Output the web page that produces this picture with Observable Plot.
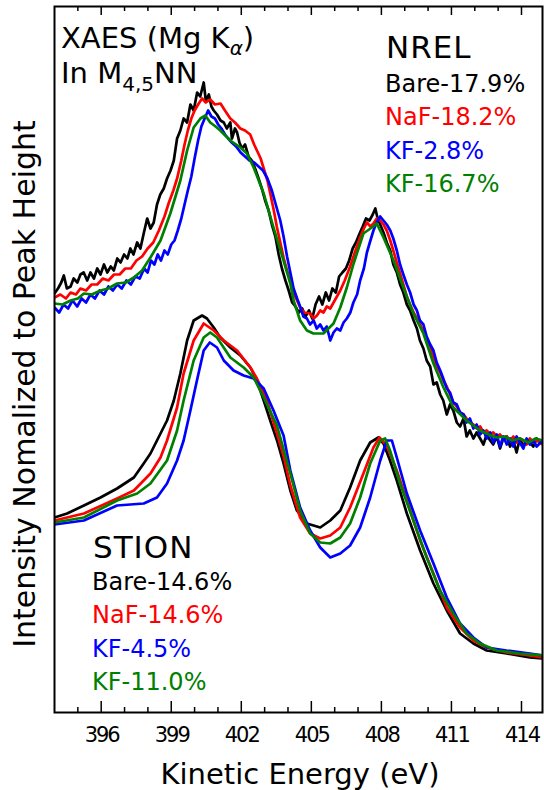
<!DOCTYPE html>
<html><head><meta charset="utf-8">
<script src="https://cdn.jsdelivr.net/npm/d3@7"></script>
<script src="https://cdn.jsdelivr.net/npm/@observablehq/plot@0.6"></script>
<style>
html,body{margin:0;padding:0;background:#fff;}
#chart svg{display:block;}
</style>
</head><body><div id="chart"></div>
<script>
// ---------- DATA (kinetic energy in eV, intensity in arbitrary units) ----------
// STION sample set
const stionBareE = [394.0,394.54,395.26,395.97,396.68,397.40,397.82,398.11,398.54,398.82,399.11,399.39,399.68,399.96,400.32,400.53,400.82,401.10,401.53,401.96,402.39,402.67,402.96,403.24,403.53,403.81,404.10,404.38,404.81,405.38,405.81,406.24,406.66,407.09,407.52,407.87,408.09,408.37,408.66,409.09,409.66,410.23,410.80,411.37,411.94,412.51,413.36,414.36,414.9];
const stionBareI = [138,142,150,158,167,178,192,202,222,235,255,282,315,335,340,337,328,318,308,300,288,275,255,235,215,192,165,145,132,128,135,145,168,195,213,218,212,195,175,142,105,72,45,22,12,5,2,-2,-3];

const stionNaFE = [394.0,395.26,396.68,397.40,398.11,398.54,398.82,399.25,399.53,399.96,400.39,400.82,401.25,401.82,402.39,402.67,403.10,403.53,403.81,404.10,404.52,404.95,405.38,405.81,406.24,406.66,407.23,407.66,407.92,408.23,408.66,409.09,409.66,410.23,410.80,411.37,411.94,412.51,413.36,414.36,414.9];
const stionNaFI = [135,142,157,165,182,198,215,248,282,315,332,325,315,305,288,277,255,222,200,170,138,122,117,120,128,148,182,208,218,210,185,155,115,82,48,28,15,8,3,0,-2];

const stionKF45E = [394.0,395.26,396.68,397.82,398.39,398.82,399.25,399.53,399.82,400.10,400.39,400.65,400.96,401.25,401.67,402.10,402.53,402.96,403.38,403.81,404.10,404.52,404.95,405.38,405.81,406.24,406.66,407.09,407.52,407.95,408.23,408.45,408.66,409.09,409.66,410.23,410.80,411.37,411.94,412.51,413.36,414.36,414.9];
const stionKF45I = [131,135,150,152,158,172,195,215,245,275,305,313,308,295,285,280,277,267,245,220,185,148,125,108,98,102,110,128,158,195,215,215,198,162,125,92,58,32,18,8,5,2,0];

const stionKF110E = [394.0,395.26,396.68,397.54,398.11,398.82,399.25,399.53,399.96,400.39,400.67,400.96,401.53,402.10,402.53,402.96,403.53,403.67,404.10,404.52,404.95,405.38,405.81,406.24,406.66,407.09,407.52,407.95,408.16,408.37,408.80,409.37,409.94,410.51,411.08,411.65,412.22,412.94,413.93,414.9];
const stionKF110I = [133,138,155,162,172,195,225,255,295,318,323,318,298,288,278,258,230,218,182,145,122,113,112,118,132,158,192,215,217,205,172,135,98,65,42,22,12,5,2,0];

// NREL sample set (plotted with a vertical offset)
const nrelOffset = 215;
const nrelBareE = [394.00,394.15,394.29,394.40,394.53,394.69,394.82,394.98,395.11,395.25,395.40,395.54,395.69,395.83,395.97,396.12,396.26,396.41,396.54,396.69,396.83,396.98,397.12,397.25,397.38,397.54,397.68,397.83,397.97,398.11,398.25,398.39,398.53,398.68,398.82,398.97,399.11,399.25,399.39,399.53,399.68,399.82,399.96,400.11,400.24,400.39,400.48,400.61,400.72,400.82,400.96,401.11,401.25,401.38,401.53,401.60,401.73,401.82,401.92,402.03,402.16,402.31,402.45,402.59,402.74,402.88,403.02,403.17,403.31,403.46,403.60,403.74,403.89,404.03,404.18,404.32,404.46,404.61,404.75,404.90,405.04,405.18,405.33,405.47,405.62,405.76,405.90,406.05,406.19,406.33,406.48,406.62,406.77,406.91,407.05,407.20,407.34,407.49,407.63,407.74,407.84,407.95,408.09,408.23,408.38,408.51,408.66,408.80,408.94,409.09,409.23,409.38,409.52,409.65,409.80,409.94,410.09,410.23,410.37,410.52,410.65,410.80,410.94,411.08,411.23,411.37,411.52,411.65,411.79,411.94,412.08,412.23,412.37,412.51,412.66,412.79,412.94,413.08,413.22,413.37,413.51,413.65,413.79,413.93,414.08,414.22,414.36,414.51,414.65,414.90];
const nrelBareI = [147,152,158,165,152,154,162,158,166,168,160,168,162,172,166,176,168,174,170,182,178,186,182,192,186,198,192,208,222,212,218,236,246,252,262,270,280,302,310,322,318,336,330,348,344,358,340,346,334,330,326,320,318,312,318,302,312,308,298,292,296,284,280,272,262,252,240,230,216,204,186,172,160,150,138,134,128,132,124,130,122,136,144,136,148,140,152,148,164,168,172,180,192,198,206,214,222,220,226,232,222,216,208,198,190,176,168,156,148,136,130,120,112,100,92,80,74,56,58,46,40,26,36,30,18,14,22,4,10,2,8,2,-4,6,0,-4,4,-8,2,4,-6,0,-12,2,-6,0,-2,-6,2,-2];

const nrelNaFE = [394.00,394.25,394.49,394.69,394.92,395.11,395.35,395.59,395.83,396.07,396.31,396.55,396.79,397.03,397.27,397.51,397.75,397.99,398.23,398.47,398.71,398.90,399.09,399.25,399.43,399.57,399.71,399.86,400.00,400.15,400.32,400.48,400.67,400.87,401.11,401.30,401.53,401.73,401.96,402.16,402.38,402.55,402.67,402.83,402.96,403.12,403.25,403.41,403.52,403.67,403.81,403.96,404.10,404.24,404.39,404.52,404.70,404.95,405.10,405.24,405.38,405.52,405.66,405.81,406.00,406.24,406.43,406.66,406.86,407.09,407.25,407.38,407.53,407.66,407.80,407.95,408.09,408.23,408.38,408.51,408.66,408.80,408.94,409.09,409.23,409.38,409.52,409.65,409.80,409.94,410.09,410.23,410.37,410.52,410.65,410.80,410.94,411.08,411.23,411.37,411.52,411.65,411.79,411.94,412.08,412.23,412.37,412.51,412.66,412.79,412.94,413.08,413.22,413.37,413.51,413.65,413.79,413.93,414.08,414.22,414.36,414.51,414.65,414.90];
const nrelNaFI = [143,146,142,148,146,152,150,156,156,162,160,166,166,172,172,180,184,192,198,210,224,238,250,262,280,296,310,322,330,336,342,338,341,336,337,330,322,318,312,310,306,296,290,282,272,260,246,228,214,198,183,170,160,147,140,133,128,127,122,125,130,128,134,132,140,150,160,174,188,203,212,218,214,217,222,220,216,210,200,190,178,167,156,144,136,128,122,116,110,102,94,82,74,68,60,54,46,38,34,28,26,22,18,16,12,14,8,10,6,8,4,6,2,4,0,4,-2,2,0,-4,2,-2,0,-4];

const nrelKF28E = [394.00,394.20,394.39,394.58,394.77,394.97,395.16,395.35,395.54,395.73,395.93,396.12,396.31,396.50,396.69,396.88,397.08,397.27,397.46,397.65,397.84,397.99,398.13,398.28,398.42,398.56,398.71,398.85,399.00,399.14,399.28,399.43,399.57,399.71,399.86,400.00,400.15,400.29,400.43,400.58,400.72,400.87,401.01,401.15,401.30,401.44,401.59,401.78,401.97,402.16,402.35,402.55,402.74,402.93,403.12,403.31,403.50,403.67,403.81,403.96,404.10,404.24,404.39,404.52,404.66,404.81,404.94,405.10,405.23,405.38,405.52,405.66,405.81,405.95,406.09,406.24,406.38,406.52,406.67,406.80,406.96,407.09,407.25,407.38,407.53,407.66,407.80,407.95,408.09,408.23,408.38,408.51,408.66,408.80,408.94,409.09,409.23,409.38,409.52,409.65,409.80,409.94,410.09,410.23,410.37,410.52,410.65,410.80,410.94,411.08,411.23,411.37,411.52,411.65,411.79,411.94,412.08,412.23,412.37,412.51,412.66,412.79,412.94,413.08,413.22,413.37,413.51,413.65,413.79,413.93,414.08,414.22,414.36,414.51,414.65,414.90];
const nrelKF28I = [133,128,136,132,140,134,142,138,146,142,150,146,154,150,156,152,160,156,164,162,172,168,180,176,186,180,190,186,196,200,210,222,236,250,264,282,300,314,322,330,324,322,316,312,306,302,298,294,288,284,280,278,274,270,262,250,234,220,204,184,168,152,142,134,124,122,116,120,112,116,110,114,100,108,112,110,118,122,128,138,146,160,172,188,200,210,218,224,220,216,210,202,190,176,166,156,148,136,130,120,116,104,96,90,78,70,62,52,48,38,36,28,26,18,22,12,16,6,10,2,8,-2,6,-6,4,-4,2,-6,4,-2,-8,2,-4,0,-6,0];

const nrelKF167E = [394.0,394.35,394.69,395.0,395.26,395.6,395.97,396.3,396.68,397.05,397.40,397.75,398.11,398.54,398.96,399.39,399.68,399.96,400.25,400.46,400.67,400.9,401.10,401.53,401.96,402.24,402.53,402.96,403.38,403.81,404.10,404.24,404.52,404.81,405.09,405.52,405.95,406.24,406.52,406.81,407.23,407.59,407.80,408.09,408.52,408.94,409.37,409.80,410.23,410.66,411.08,411.65,412.22,412.6,412.94,413.3,413.6,413.93,414.3,414.6,414.9];
const nrelKF167I = [137,136,140,142,147,146,150,152,157,158,163,170,183,200,227,260,290,313,322,325,318,314,310,300,293,287,273,247,213,180,157,140,120,110,107,107,117,133,153,177,207,213,217,203,180,153,127,107,77,53,33,20,10,6,3,4,0,2,-2,2,0];

// Axis ticks
const majorTicks = [396, 399, 402, 405, 408, 411, 414];
const minorTicks = [395, 397, 398, 400, 401, 403, 404, 406, 407, 409, 410, 412, 413];
const xDomain = [394.0, 414.9];
const yDomain = [-57, 649];

// Legend text
const nrelLabels = ["Bare-17.9%", "NaF-18.2%", "KF-2.8%", "KF-16.7%"];
const stionLabels = ["Bare-14.6%", "NaF-14.6%", "KF-4.5%", "KF-11.0%"];
const seriesColors = ["#000000", "#ff0000", "#0000ff", "#008000"];

// ---------- BUILD ----------
function rows(E, I, offset) { return E.map((e, i) => ({energy: e, intensity: I[i] + offset})); }
const curves = [
  {E: stionBareE, I: stionBareI, off: 0, c: seriesColors[0]},
  {E: stionNaFE, I: stionNaFI, off: 0, c: seriesColors[1]},
  {E: stionKF45E, I: stionKF45I, off: 0, c: seriesColors[2]},
  {E: stionKF110E, I: stionKF110I, off: 0, c: seriesColors[3]},
  {E: nrelBareE, I: nrelBareI, off: nrelOffset, c: seriesColors[0]},
  {E: nrelNaFE, I: nrelNaFI, off: nrelOffset, c: seriesColors[1]},
  {E: nrelKF28E, I: nrelKF28I, off: nrelOffset, c: seriesColors[2]},
  {E: nrelKF167E, I: nrelKF167I, off: nrelOffset, c: seriesColors[3]}
];

const plot = Plot.plot({
  width: 544, height: 790,
  marginTop: 6, marginRight: 2, marginBottom: 78, marginLeft: 54,
  x: {domain: xDomain, axis: null},
  y: {domain: yDomain, axis: null},
  style: {fontFamily: "DejaVu Sans", background: "white", overflow: "visible"},
  marks: [
    ...curves.map(c => Plot.line(rows(c.E, c.I, c.off), {x: "energy", y: "intensity", stroke: c.c, strokeWidth: 2.7, strokeLinejoin: "round", clip: true})),
    Plot.ruleX(majorTicks, {x: d => d, y1: yDomain[0], y2: yDomain[0] + 11, stroke: "black", strokeWidth: 1.5}),
    Plot.ruleX(minorTicks, {x: d => d, y1: yDomain[0], y2: yDomain[0] + 5, stroke: "black", strokeWidth: 1.5}),
    Plot.ruleX(majorTicks, {x: d => d, y1: yDomain[1] - 9, y2: yDomain[1], stroke: "black", strokeWidth: 1.5}),
    Plot.ruleX(minorTicks, {x: d => d, y1: yDomain[1] - 5, y2: yDomain[1], stroke: "black", strokeWidth: 1.5}),
    Plot.frame({stroke: "black", strokeWidth: 2})
  ]
});
document.getElementById("chart").appendChild(plot);

// ---------- TEXT ----------
const svg = d3.select(plot);
const xScale = plot.scale("x");
const ff = "DejaVu Sans";

const tickG = svg.append("g");
majorTicks.forEach(t => {
  tickG.append("text").attr("x", xScale.apply(t) + 1).attr("y", 742)
    .attr("text-anchor", "middle").attr("font-family", ff).attr("font-size", 21)
    .attr("letter-spacing", "-2px").attr("fill", "black").text(String(t));
});

svg.append("text").attr("x", 300).attr("y", 784).attr("text-anchor", "middle")
  .attr("font-family", ff).attr("font-size", 29).attr("fill", "black").text("Kinetic Energy (eV)");

svg.append("text").attr("transform", "translate(35,384) rotate(-90)").attr("text-anchor", "middle")
  .attr("font-family", ff).attr("font-size", 30).attr("fill", "black").text("Intensity Nomalized to Peak Height");

// XAES title with subscripts
const t1 = svg.append("text").attr("x", 61).attr("y", 48).attr("text-anchor", "start").attr("font-family", ff).attr("font-size", 29).attr("fill", "black");
t1.append("tspan").text("XAES (Mg K");
t1.append("tspan").attr("font-size", 20).attr("dy", 7).attr("font-style", "italic").text("\u03b1");
t1.append("tspan").attr("dy", -7).text(")");

const t2 = svg.append("text").attr("x", 61).attr("y", 83).attr("text-anchor", "start").attr("font-family", ff).attr("font-size", 29).attr("fill", "black");
t2.append("tspan").text("In M");
t2.append("tspan").attr("font-size", 20).attr("dy", 8).text("4,5");
t2.append("tspan").attr("dy", -8).text("NN");

function legend(x, titleY, title, labels, y0, step) {
  svg.append("text").attr("x", x + 1).attr("y", titleY).attr("text-anchor", "start").attr("font-family", ff).attr("font-size", 31)
    .attr("letter-spacing", "1px").attr("fill", "black").text(title);
  labels.forEach((l, i) => {
    svg.append("text").attr("x", x).attr("y", y0 + i * step).attr("text-anchor", "start").attr("font-family", ff).attr("font-size", 24)
      .attr("fill", seriesColors[i]).text(l);
  });
}
legend(385, 58, "NREL", nrelLabels, 92, 33.4);
legend(92, 558, "STION", stionLabels, 590, 33.4);
</script>
</body></html>
